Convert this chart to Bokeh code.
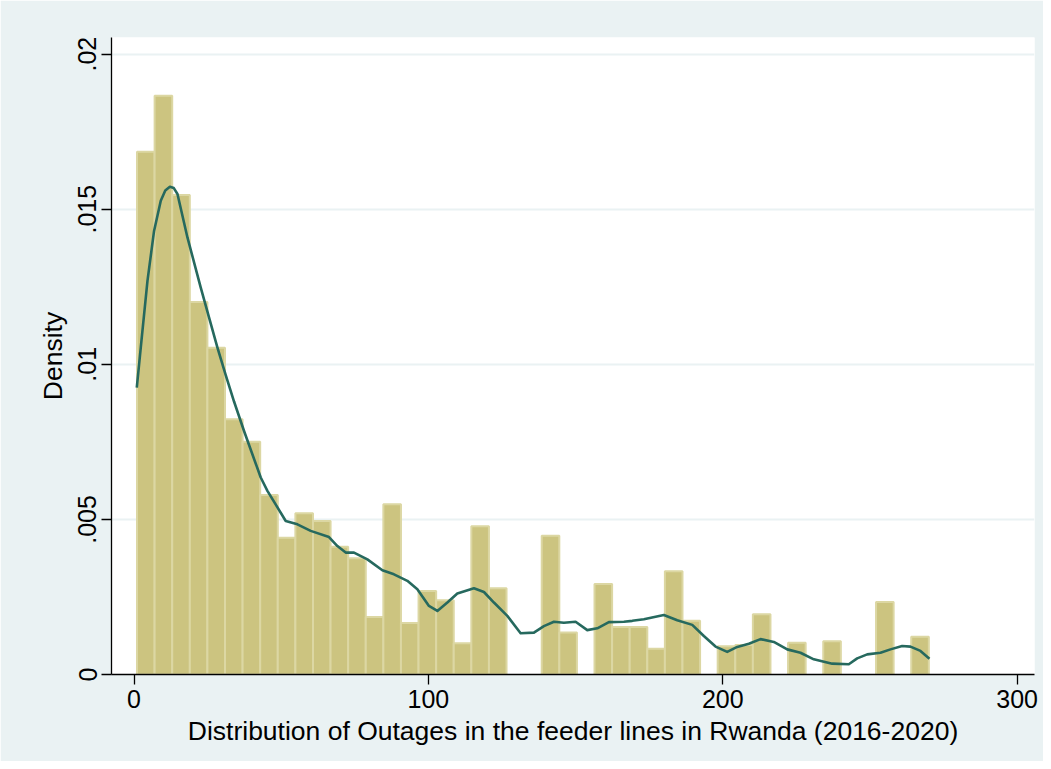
import numpy as np
from bokeh.plotting import figure
from bokeh.models import FixedTicker, ColumnDataSource
from bokeh.embed import file_html
from bokeh.resources import INLINE

# ---- data ----
data_min = 1.0
data_max = 270.0
n_bins = 45
bar_density = [0.01685, 0.01866, 0.01546, 0.01201, 0.01053, 0.00823, 0.00750, 0.00579, 0.00441,
               0.00520, 0.00495, 0.00412, 0.00375, 0.00185, 0.00549, 0.00166, 0.00269, 0.00239,
               0.00101, 0.00478, 0.00278, 0.0, 0.0, 0.00447, 0.00135, 0.0, 0.00292, 0.00153,
               0.00153, 0.00083, 0.00333, 0.00173, 0.0, 0.00091, 0.00095, 0.00194, 0.0, 0.00102,
               0.0, 0.00107, 0.0, 0.0, 0.00234, 0.0, 0.00122]

kde_x = [0.92, 2.27, 4.55, 6.79, 9.07, 10.6, 12.16, 13.5, 14.74, 18.13, 22.65, 28.32, 31.14, 33.96, 37.36,
         43.03, 45.3, 51.52, 55.49, 60.0, 66.22, 69.07, 71.89, 74.71, 79.26, 84.35, 88.29, 92.84,
         96.24, 100.18, 103.03, 106.43, 109.82, 115.46, 118.86, 122.25, 126.8, 131.32, 135.84,
         139.23, 142.63, 146.02, 150.0, 153.97, 157.37, 161.3, 166.4, 169.25, 173.19, 179.98,
         184.53, 189.63, 193.57, 197.54, 201.51, 204.91, 208.85, 212.82, 217.34, 221.89, 226.4,
         230.92, 237.17, 242.81, 245.66, 249.06, 253.57, 256.97, 260.94, 263.76, 267.16, 270.22]
kde_y = [0.00925, 0.01054, 0.01269, 0.0143, 0.01527, 0.01560, 0.01572, 0.01568, 0.01549, 0.01409, 0.01247, 0.01054,
         0.00965, 0.0088, 0.00785, 0.00635, 0.00592, 0.00495, 0.00484, 0.00463, 0.00443, 0.00414,
         0.00393, 0.00393, 0.00371, 0.00336, 0.00323, 0.00302, 0.00275, 0.00221, 0.00205, 0.00232,
         0.00261, 0.00278, 0.00266, 0.00232, 0.00189, 0.00133, 0.00135, 0.00156, 0.0017, 0.00167,
         0.0017, 0.00143, 0.00149, 0.00169, 0.0017, 0.00173, 0.00178, 0.00192, 0.00175, 0.0016,
         0.00124, 0.0009, 0.00073, 0.00089, 0.00099, 0.00114, 0.00105, 0.00081, 0.0007, 0.00049,
         0.00035, 0.00033, 0.00052, 0.00065, 0.0007, 0.00081, 0.00092, 0.0009, 0.00076, 0.00051]

x_ticks = [0, 100, 200, 300]
y_ticks = [0, 0.005, 0.01, 0.015, 0.02]
y_tick_labels = ["0", ".005", ".01", ".015", ".02"]

x_title = "Distribution of Outages in the feeder lines in Rwanda (2016-2020)"
y_title = "Density"

# ---- build ----
edges = np.linspace(data_min, data_max, n_bins + 1)
left, right, top = [], [], []
for i, d in enumerate(bar_density):
    if d > 0:
        left.append(edges[i]); right.append(edges[i + 1]); top.append(d)
bars = ColumnDataSource(dict(left=left, right=right, top=top))

FONT = "Liberation Sans"
BG = "#EAF2F3"

p = figure(width=1043, height=761, output_backend="svg", toolbar_location=None,
           x_range=(-7.67, 305.9), y_range=(0, 0.020535),
           frame_width=923, frame_height=637,
           min_border_left=111, min_border_right=9, min_border_top=37, min_border_bottom=87)
p.background_fill_color = "white"
p.border_fill_color = BG
p.outline_line_color = None

p.quad(left="left", right="right", bottom=0, top="top", source=bars,
       fill_color="#CCC480", line_color="#DCD7A3", line_width=2)
p.line(kde_x, kde_y, line_color="#26695E", line_width=2.6, line_join="round")

p.xgrid.visible = False
p.ygrid.grid_line_color = BG
p.ygrid.grid_line_width = 2
p.ygrid.level = "underlay"

p.xaxis.ticker = FixedTicker(ticks=x_ticks)
p.yaxis.ticker = FixedTicker(ticks=y_ticks)
p.yaxis.major_label_overrides = {v: s for v, s in zip(y_ticks, y_tick_labels)}
p.yaxis.major_label_orientation = "vertical"

for ax in (p.xaxis[0], p.yaxis[0]):
    ax.axis_line_color = "black"
    ax.axis_line_width = 1.3
    ax.major_tick_line_color = "black"
    ax.major_tick_line_width = 1.3
    ax.major_tick_out = 10
    ax.major_tick_in = 0
    ax.minor_tick_line_color = None
    ax.major_label_text_font = FONT
    ax.major_label_text_font_size = "25px"
    ax.major_label_text_color = "black"
    ax.axis_label_text_font = FONT
    ax.axis_label_text_font_size = "26.5px"
    ax.axis_label_text_font_style = "normal"
    ax.axis_label_text_color = "black"

p.xaxis.axis_label = x_title
p.yaxis.axis_label = y_title
p.xaxis.major_label_standoff = 5
p.xaxis.axis_label_standoff = 5
p.yaxis.major_label_standoff = 5
p.yaxis.axis_label_standoff = 8

open("out.html", "w").write(file_html(p, INLINE))
